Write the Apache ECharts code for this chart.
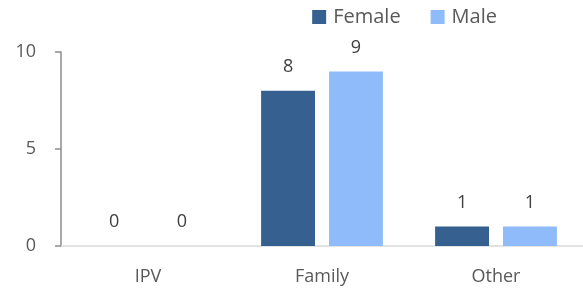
<!DOCTYPE html>
<html>
<head>
<meta charset="utf-8">
<script src="https://cdn.jsdelivr.net/npm/echarts@6/dist/echarts.min.js"></script>
<style>
  html, body { margin: 0; padding: 0; background: #fff; }
  #main { width: 583px; height: 291px; }
</style>
</head>
<body>
<div id="main"></div>
<script>
const categories = ['IPV', 'Family', 'Other']
const female = [0, 8, 1]
const male = [0, 9, 1]
const yTicks = { min: 0, max: 10, interval: 5 }

const FONT = '"Open Sans", "Liberation Sans", sans-serif'

const labelStyle = {
  show: true,
  position: 'top',
  distance: 15,
  color: '#404040',
  fontSize: 18,
  fontFamily: FONT,
}

let chart = echarts.init(document.getElementById('main'))
let option = {
  animation: false,
  textStyle: { fontFamily: FONT },
  legend: {
    top: 2,
    right: 81,
    itemWidth: 14,
    itemHeight: 14,
    itemGap: 30,
    icon: 'rect',
    textStyle: {
      color: '#595959',
      fontSize: 20,
      fontFamily: FONT,
      padding: [0, 0, 0, 2],
    },
    data: ['Female', 'Male'],
  },
  grid: {
    left: 61,
    top: 52,
    bottom: 45,
    width: 528,
  },
  xAxis: {
    type: 'category',
    data: categories,
    axisLine: { lineStyle: { color: '#d9d9d9', width: 1.5 } },
    axisTick: { show: false },
    axisLabel: {
      color: '#595959',
      fontSize: 18,
      fontFamily: FONT,
      margin: 22,
    },
  },
  yAxis: {
    type: 'value',
    min: yTicks.min,
    max: yTicks.max,
    interval: yTicks.interval,
    axisLine: { show: true, lineStyle: { color: '#8c8c8c', width: 1.5 } },
    axisTick: { show: true, length: 6, lineStyle: { color: '#8c8c8c', width: 1.5 } },
    splitLine: { show: false },
    axisLabel: {
      color: '#595959',
      fontSize: 18,
      fontFamily: FONT,
      margin: 25,
    },
  },
  series: [
    {
      name: 'Female',
      type: 'bar',
      data: female,
      barGap: '26%',
      barCategoryGap: '30%',
      itemStyle: { color: '#35608f' },
      label: labelStyle,
    },
    {
      name: 'Male',
      type: 'bar',
      data: male,
      itemStyle: { color: '#8fbbfb' },
      label: labelStyle,
    },
  ],
}
chart.setOption(option)
</script>
</body>
</html>
